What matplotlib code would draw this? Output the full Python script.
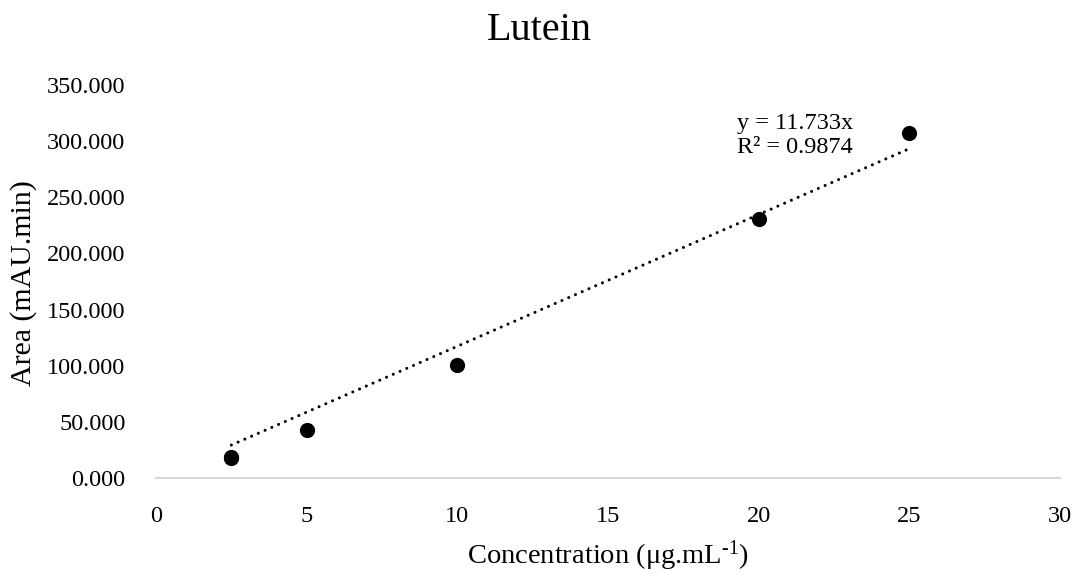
import matplotlib
matplotlib.use("Agg")
import matplotlib.pyplot as plt
import numpy as np

plt.rcParams['font.family'] = ['Liberation Serif', 'DejaVu Serif']
plt.rcParams['mathtext.fontset'] = 'custom'
plt.rcParams['mathtext.rm'] = 'Liberation Serif'
plt.rcParams['mathtext.it'] = 'Liberation Serif:italic'

# Data
concentration = [2.5, 2.5, 5, 10, 20, 25]
area = [17.4, 19.0, 42.7, 100.6, 230.4, 306.9]
slope = 11.733
r2 = 0.9874
x_ticks = [0, 5, 10, 15, 20, 25, 30]
y_ticks = [0, 50, 100, 150, 200, 250, 300, 350]

W, H = 1078, 574
fig = plt.figure(figsize=(W / 100, H / 100), dpi=100)
ax = fig.add_axes([156 / W, 1 - 478 / H, (1060 - 156) / W, (478 - 85) / H])

ax.scatter(concentration, area, s=120, color='black', zorder=3, linewidths=0)

xfit = np.array([min(concentration), max(concentration)])
ax.plot(xfit, slope * xfit, color='black', linewidth=2.2,
        linestyle=(0, (0.01, 2.4)), dash_capstyle='round', zorder=2)

ax.set_xlim(0, 30)
ax.set_ylim(0, 350)
ax.set_xticks(x_ticks)
ax.set_yticks(y_ticks)
ax.set_yticklabels([f"{v:.3f}" for v in y_ticks])
ax.tick_params(axis='both', length=0, labelsize=17.5, colors='black')
ax.tick_params(axis='y', pad=22)
ax.tick_params(axis='x', pad=20)

for s in ['top', 'right', 'left']:
    ax.spines[s].set_visible(False)
ax.spines['bottom'].set_color('#d0d0d0')
ax.spines['bottom'].set_linewidth(1.2)

ax.text(0.643, 0.903, f"y = {slope:.3f}x", transform=ax.transAxes,
        fontsize=17.5, va='center', ha='left')
ax.text(0.643, 0.842, f"R² = {r2:.4f}", transform=ax.transAxes,
        fontsize=17.5, va='center', ha='left')

fig.text(0.5, 1 - 30 / H, "Lutein", fontsize=29, ha='center', va='center')
fig.text(608 / W, 1 - 556 / H, "Concentration (μg.mL$^{\u2010 1}$)",
         fontsize=20.5, ha='center', va='center')
fig.text(24 / W, 1 - 283 / H, "Area (mAU.min)", fontsize=21.5, rotation=90,
         ha='center', va='center')

fig.savefig("out.png", dpi=100)
